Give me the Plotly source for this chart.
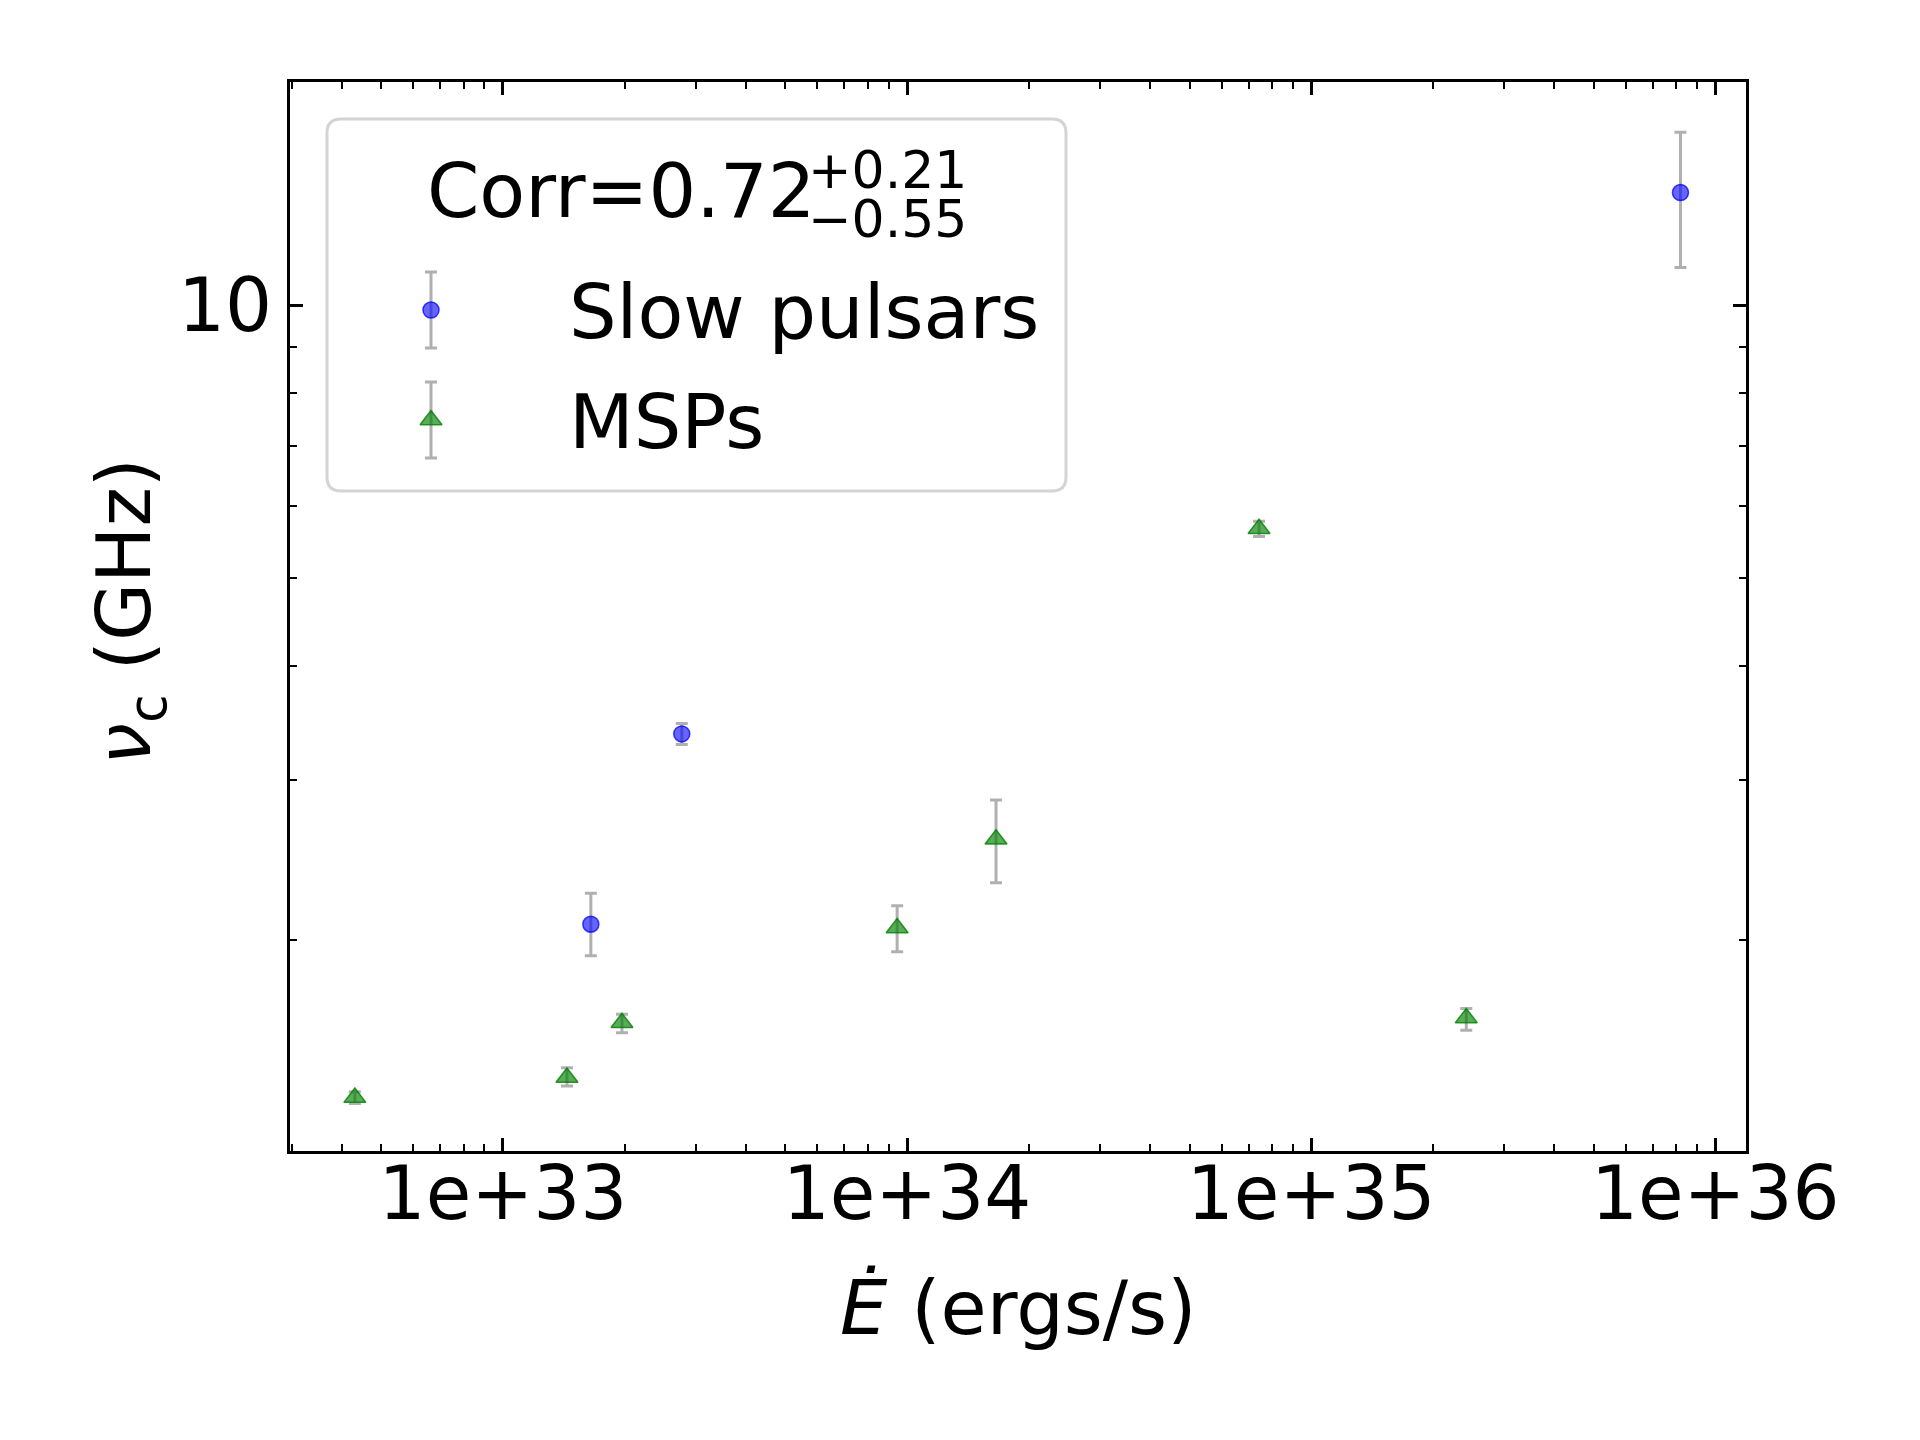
import plotly.graph_objects as go

# ---- data ----
slow_edot = [8.2e35, 2.77e33, 1.65e33]
slow_nu = [13.3, 3.37, 2.08]
slow_err_up = [2.2, 0.09, 0.17]
slow_err_dn = [2.3, 0.09, 0.16]

msp_edot = [4.3e32, 1.44e33, 1.97e33, 9.45e33, 1.66e34, 7.43e34, 2.42e35]
msp_nu = [1.34, 1.41, 1.62, 2.06, 2.58, 5.67, 1.64]
msp_err_up = [0.02, 0.035, 0.035, 0.12, 0.27, 0.11, 0.04]
msp_err_dn = [0.02, 0.03, 0.04, 0.12, 0.27, 0.11, 0.05]

x_ticks = [1e33, 1e34, 1e35, 1e36]
x_ticktext = ["1e+33", "1e+34", "1e+35", "1e+36"]
y_ticks = [10]
y_ticktext = ["10"]
x_minor = [m * 10.0 ** e for e in range(32, 36) for m in range(2, 10)]
y_minor = [m * 10.0 ** e for e in range(0, 1) for m in range(2, 10)]

legend_title = "Corr=0.72"
corr_plus = "+0.21"
corr_minus = "\u22120.55"
names = ["Slow pulsars", "MSPs"]

FONT = "DejaVu Sans"
W, H = 1920, 1440
L, R, T, B = 290, 174, 82, 289
PW, PH = W - L - R, H - T - B

def px(xp):
    return (xp - L) / PW

def py(yp):
    return (H - B - yp) / PH

err_col = "rgba(150,150,150,0.75)"
blue_fill = "rgba(0,0,255,0.6)"
green_fill = "rgba(0,128,0,0.65)"

fig = go.Figure()

fig.add_trace(go.Scatter(
    x=slow_edot, y=slow_nu, mode="markers", name=names[0],
    marker=dict(symbol="circle", size=16, color=blue_fill,
                line=dict(color="rgba(0,0,255,0.75)", width=1.5)),
    error_y=dict(type="data", symmetric=False, array=slow_err_up, arrayminus=slow_err_dn,
                 color=err_col, thickness=3, width=6),
    showlegend=False))

fig.add_trace(go.Scatter(
    x=msp_edot, y=msp_nu, mode="markers", name=names[1],
    marker=dict(symbol="triangle-up", size=19, color=green_fill,
                line=dict(color="rgba(0,128,0,0.8)", width=1.5)),
    error_y=dict(type="data", symmetric=False, array=msp_err_up, arrayminus=msp_err_dn,
                 color=err_col, thickness=3, width=6),
    showlegend=False))

# legend glyphs drawn on an overlay pixel axis
leg_x = [431 - L, 431 - L]
leg_y = [H - B - 310, H - B - 420]
leg_err = [38, 38]
fig.add_trace(go.Scatter(
    x=[leg_x[0]], y=[leg_y[0]], xaxis="x2", yaxis="y2", mode="markers",
    marker=dict(symbol="circle", size=16, color=blue_fill,
                line=dict(color="rgba(0,0,255,0.75)", width=1.5)),
    error_y=dict(type="data", array=[leg_err[0]], color=err_col, thickness=3, width=6),
    showlegend=False, hoverinfo="skip"))
fig.add_trace(go.Scatter(
    x=[leg_x[1]], y=[leg_y[1]], xaxis="x2", yaxis="y2", mode="markers",
    marker=dict(symbol="triangle-up", size=19, color=green_fill,
                line=dict(color="rgba(0,128,0,0.8)", width=1.5)),
    error_y=dict(type="data", array=[leg_err[1]], color=err_col, thickness=3, width=6),
    showlegend=False, hoverinfo="skip"))

# rounded legend box
x0, x1 = px(327), px(1066)
y0, y1 = py(491), py(119)
rx, ry = 14 / PW, 14 / PH
path = (f"M {x0+rx},{y0} L {x1-rx},{y0} Q {x1},{y0} {x1},{y0+ry} "
        f"L {x1},{y1-ry} Q {x1},{y1} {x1-rx},{y1} L {x0+rx},{y1} "
        f"Q {x0},{y1} {x0},{y1-ry} L {x0},{y0+ry} Q {x0},{y0} {x0+rx},{y0} Z")
fig.add_shape(type="path", path=path, xref="paper", yref="paper",
              line=dict(color="#d4d4d4", width=3), fillcolor="white", layer="below")

axis_common = dict(
    type="log", showgrid=False, zeroline=False, showline=True, linecolor="black",
    linewidth=3, mirror="allticks", ticks="inside", ticklen=13, tickwidth=2.5,
    tickcolor="black", tickfont=dict(family=FONT, size=74, color="black"),
)

fig.update_layout(
    width=W, height=H,
    margin=dict(l=L, r=R, t=T, b=B, autoexpand=False),
    paper_bgcolor="white", plot_bgcolor="rgba(0,0,0,0)",
    font=dict(family=FONT, color="black"),
    xaxis=dict(**axis_common, range=[32.473, 36.076], tickmode="array",
               tickvals=x_ticks, ticktext=x_ticktext, ticklabelstandoff=-24,
               minor=dict(tickmode="array", tickvals=x_minor, ticks="inside",
                          ticklen=7, tickwidth=2, tickcolor="black")),
    yaxis=dict(**axis_common, range=[0.0683, 1.2456], tickmode="array",
               tickvals=y_ticks, ticktext=y_ticktext,
               minor=dict(tickmode="array", tickvals=y_minor, ticks="inside",
                          ticklen=7, tickwidth=2, tickcolor="black")),
    xaxis2=dict(overlaying="x", anchor="y2", range=[0, PW], visible=False, fixedrange=True),
    yaxis2=dict(overlaying="y", anchor="x2", range=[0, PH], visible=False, fixedrange=True),
    showlegend=False,
)

ann = []
ann.append(dict(text=legend_title, x=px(425), y=py(191), xanchor="left", yanchor="middle",
                font=dict(size=75)))
ann.append(dict(text=corr_plus, x=px(806), y=py(170), xanchor="left", yanchor="middle",
                font=dict(size=52)))
ann.append(dict(text=corr_minus, x=px(806), y=py(219), xanchor="left", yanchor="middle",
                font=dict(size=52)))
ann.append(dict(text=names[0], x=px(567), y=py(312), xanchor="left", yanchor="middle",
                font=dict(size=75)))
ann.append(dict(text=names[1], x=px(567), y=py(422), xanchor="left", yanchor="middle",
                font=dict(size=75)))
ann.append(dict(text="<i>\u0116</i> (ergs/s)", x=0.5, y=py(1308), xanchor="center",
                yanchor="middle", font=dict(size=75)))
ann.append(dict(text="<i>\u03bd</i><sub>c</sub> (GHz)", x=px(129), y=py(612),
                xanchor="center", yanchor="middle", textangle=-90, font=dict(size=75)))
for a in ann:
    a.update(xref="paper", yref="paper", showarrow=False)
    a["font"].update(family=FONT, color="black")
fig.update_layout(annotations=ann)

fig.write_html("out.html")
